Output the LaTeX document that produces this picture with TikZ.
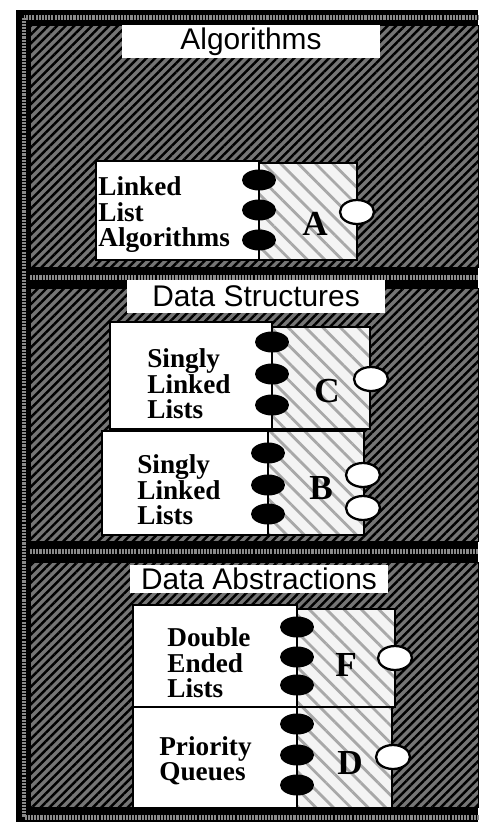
\documentclass[tikz,border=0pt]{standalone}
\usepackage{fontspec}
\setmainfont{Liberation Serif}
\newfontfamily\headfont{Liberation Sans}
\usepackage{tikz}
\usetikzlibrary{shapes.geometric,patterns.meta}
\definecolor{ink}{HTML}{000000}
\definecolor{paper}{HTML}{FFFFFF}
\definecolor{grain}{HTML}{757575}
\definecolor{tint}{HTML}{F4F4F4}
\definecolor{hatch}{HTML}{A8A8A8}
\definecolor{rim}{HTML}{8A8A8A}
\tikzset{
  field/.style={fill=grain, postaction={pattern={Lines[angle=45,distance=3.5pt,line width=1.4pt]}, pattern color=ink}},
  rimline/.style={draw=rim, line width=0.1cm, dash pattern=on 1.2pt off 0.6pt},
  title/.style={fill=paper, minimum width=5.16cm, minimum height=0.66cm, inner sep=0pt, font=\headfont\fontsize{17}{20}\selectfont},
  half/.style={draw=ink, fill=paper, line width=0.6pt},
  shaded/.style={fill=tint, postaction={pattern={Lines[angle=-45,distance=7pt,line width=1.6pt]}, pattern color=hatch}, postaction={draw=ink, line width=0.6pt}},
  spine/.style={draw=ink, line width=1.2pt},
  knob/.style={ellipse, fill=ink, minimum width=0.68cm, minimum height=0.42cm, inner sep=0pt},
  plug/.style={ellipse, draw=ink, fill=paper, line width=1.3pt, minimum width=0.68cm, minimum height=0.48cm, inner sep=0pt},
  lbl/.style={align=left, anchor=west, inner sep=0pt, font=\bfseries\fontsize{15.5}{14.5}\selectfont},
  tag/.style={inner sep=0pt, font=\bfseries\fontsize{20}{20}\selectfont}
}
\begin{document}
\begin{tikzpicture}[x=0.02cm, y=-0.02cm]
  \useasboundingbox (0,0) rectangle (478,822);

  % frame and the three layers
  \fill[ink] (16,10) rectangle (478,822);
  \draw[rimline] (24,17.5) rectangle (490,817);
  \draw[field] (30,25) rectangle (478,267);
  \draw[field] (30,288) rectangle (478,541);
  \draw[field] (30,562) rectangle (478,807);
  \draw[rimline] (30,277.5) -- (478,277.5);
  \draw[rimline] (30,551.5) -- (478,551.5);

  \node[title] (ttlalg) at (251,41.5) {Algorithms};
  \node[title] (ttlds) at (256,296.5) {Data Structures};
  \node[title, minimum height=0.56cm] (ttlda) at (259,579) {Data Abstractions};

  % A
  \draw[half] (96,161) rectangle (259,260);
  \draw[shaded] (259,163) rectangle (357,260);
  \draw[spine] (259,161) -- (259,260);
  \node[knob] (a1) at (259,180) {}; \node[knob] (a2) at (259,210) {}; \node[knob] (a3) at (259,240) {};
  \node[plug] (ap) at (357,212) {};
  \node[lbl] (al) at (98,215) {Linked\\List\\Algorithms};
  \node[tag] (at) at (315,224) {A};

  % C
  \draw[half] (110,322) rectangle (272,429);
  \draw[shaded] (272,327) rectangle (370,429);
  \draw[spine] (272,322) -- (272,429);
  \node[knob] (c1) at (272,342) {}; \node[knob] (c2) at (272,374) {}; \node[knob] (c3) at (272,405) {};
  \node[plug] (cp) at (371,379) {};
  \node[lbl] (cl) at (147,384) {Singly\\Linked\\Lists};
  \node[tag] (ct) at (327,391) {C};

  % B
  \draw[half] (102,431) rectangle (268,535);
  \draw[shaded] (268,431) rectangle (364,535);
  \draw[spine] (268,431) -- (268,535);
  \node[knob] (b1) at (268,453) {}; \node[knob] (b2) at (268,485) {}; \node[knob] (b3) at (268,514) {};
  \node[plug] (bp1) at (363,475) {}; \node[plug] (bp2) at (363,508) {};
  \node[lbl] (bl) at (137,490) {Singly\\Linked\\Lists};
  \node[tag] (bt) at (321,488) {B};

  % F
  \draw[half] (133,605) rectangle (297,707);
  \draw[shaded] (297,609) rectangle (395,707);
  \draw[spine] (297,605) -- (297,707);
  \node[knob] (f1) at (297,627) {}; \node[knob] (f2) at (297,657) {}; \node[knob] (f3) at (297,685) {};
  \node[plug] (fp) at (395,658) {};
  \node[lbl] (fl) at (167,663) {Double\\Ended\\Lists};
  \node[tag] (ft) at (346,665) {F};

  % D
  \draw[half] (133,707) rectangle (297,808);
  \draw[shaded] (297,707) rectangle (392,808);
  \draw[spine] (297,707) -- (297,808);
  \node[knob] (d1) at (297,724) {}; \node[knob] (d2) at (297,755) {}; \node[knob] (d3) at (297,785) {};
  \node[plug] (dp) at (393,757) {};
  \node[lbl] (dl) at (159,761) {Priority\\Queues};
  \node[tag] (dt) at (350,763) {D};
\end{tikzpicture}
\end{document}
